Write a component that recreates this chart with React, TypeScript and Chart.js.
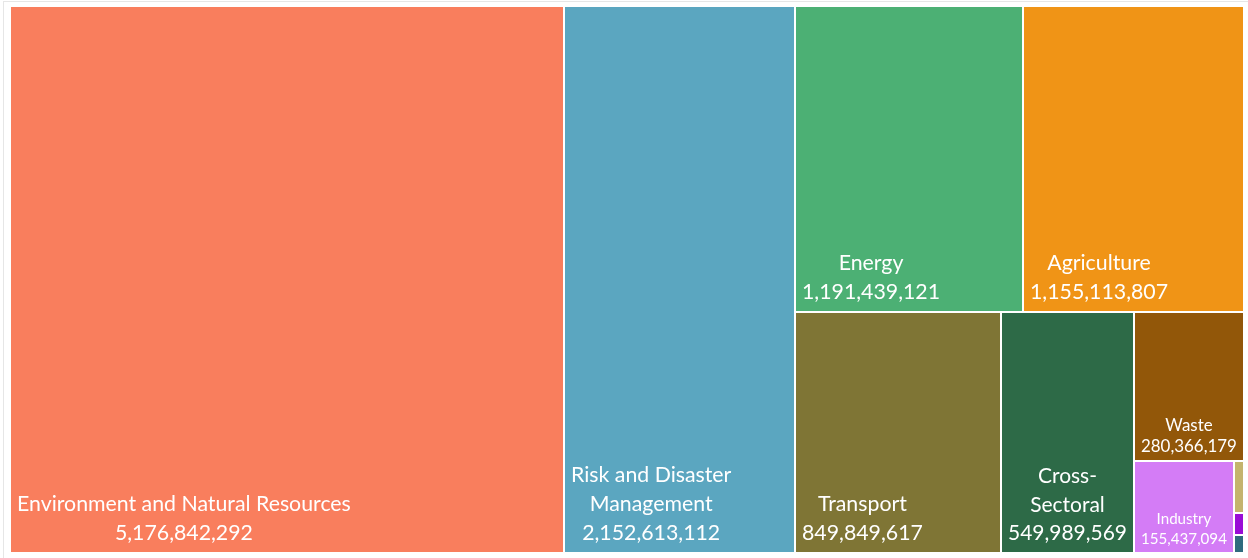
import { useEffect, useRef } from "react";
import { Chart, registerables } from "chart.js";

Chart.register(...registerables);

const categories = [
  "Environment and Natural Resources",
  "Risk and Disaster Management",
  "Energy",
  "Agriculture",
  "Transport",
  "Cross-Sectoral",
  "Waste",
  "Industry",
  "Water",
  "Health",
  "Urban Development",
];

const values = [
  5176842292, 2152613112, 1191439121, 1155113807, 849849617, 549989569,
  280366179, 155437094, 9200000, 4000000, 3200000,
];

const colors = [
  "#F97E5D",
  "#5BA6C0",
  "#4CB074",
  "#F09416",
  "#7F7535",
  "#2D6A47",
  "#925709",
  "#D47CF6",
  "#C4B46E",
  "#9A0CD6",
  "#2F6B7E",
];

type Rect = { x0: number; y0: number; x1: number; y1: number };

// d3-style squarified layout with a tunable ratio
function squarify(vals: number[], X0: number, Y0: number, X1: number, Y1: number, ratio: number): Rect[] {
  const rects: Rect[] = new Array(vals.length);
  let x0 = X0, y0 = Y0, x1 = X1, y1 = Y1;
  let value = vals.reduce((a, b) => a + b, 0);
  let i0 = 0, i1 = 0;
  const n = vals.length;
  while (i0 < n) {
    const dx = x1 - x0, dy = y1 - y0;
    let sumValue = vals[i1++];
    let minValue = sumValue, maxValue = sumValue;
    const alpha = Math.max(dy / dx, dx / dy) / (value * ratio);
    let beta = sumValue * sumValue * alpha;
    let minRatio = Math.max(maxValue / beta, beta / minValue);
    for (; i1 < n; ++i1) {
      const nv = vals[i1];
      sumValue += nv;
      const mn = Math.min(minValue, nv);
      const mx = Math.max(maxValue, nv);
      beta = sumValue * sumValue * alpha;
      const newRatio = Math.max(mx / beta, beta / mn);
      if (newRatio > minRatio) {
        sumValue -= nv;
        break;
      }
      minValue = mn;
      maxValue = mx;
      minRatio = newRatio;
    }
    if (dx < dy) {
      const ny = y0 + (dy * sumValue) / value;
      let cx = x0;
      for (let i = i0; i < i1; i++) {
        const w = (dx * vals[i]) / sumValue;
        rects[i] = { x0: cx, y0: y0, x1: cx + w, y1: ny };
        cx += w;
      }
      y0 = ny;
    } else {
      const nx = x0 + (dx * sumValue) / value;
      let cy = y0;
      for (let i = i0; i < i1; i++) {
        const h = (dy * vals[i]) / sumValue;
        rects[i] = { x0: x0, y0: cy, x1: nx, y1: cy + h };
        cy += h;
      }
      x0 = nx;
    }
    value -= sumValue;
    i0 = i1;
  }
  return rects;
}

const FONT_FAMILY = "Lato, 'Noto Sans', sans-serif";
const BASE_FONT = 21.3;

function tokenize(label: string): string[] {
  const out: string[] = [];
  label.split(" ").forEach((w) => {
    const parts = w.split(/(?<=-)/);
    parts.forEach((p) => out.push(p));
  });
  return out;
}

const treemapPlugin = {
  id: "treemapCells",
  afterDatasetsDraw(chart: any) {
    const { ctx, chartArea, scales } = chart;
    const xs = scales.x;
    const ys = scales.y;
    const W = chartArea.right - chartArea.left;
    const H = chartArea.bottom - chartArea.top;
    const rects = squarify(values, 0, 0, W, H, 0.8);
    const gap = 1;
    ctx.save();
    rects.forEach((r, i) => {
      const px0 = xs.getPixelForValue(r.x0 / W);
      const px1 = xs.getPixelForValue(r.x1 / W);
      const py0 = ys.getPixelForValue(r.y0 / H);
      const py1 = ys.getPixelForValue(r.y1 / H);
      const x = Math.round(px0) + gap;
      const y = Math.round(py0) + gap;
      const w = Math.round(px1) - Math.round(px0) - 2 * gap;
      const h = Math.round(py1) - Math.round(py0) - 2 * gap;
      ctx.fillStyle = colors[i];
      ctx.fillRect(x, y, w, h);

      // labels
      const pad = 6;
      const availW = w - 2 * pad;
      if (availW < 30) return;
      const valueText = values[i].toLocaleString("en-US");
      const tokens = tokenize(categories[i]);
      ctx.font = `${BASE_FONT}px ${FONT_FAMILY}`;
      let maxTok = ctx.measureText(valueText).width;
      tokens.forEach((t) => {
        maxTok = Math.max(maxTok, ctx.measureText(t).width);
      });
      let size = Math.min(BASE_FONT, (BASE_FONT * availW) / maxTok);
      if (size < 8) return;
      ctx.font = `${size}px ${FONT_FAMILY}`;
      const lines: string[] = [];
      let cur = "";
      tokens.forEach((t) => {
        const sep = cur === "" || cur.endsWith("-") ? "" : " ";
        const trial = cur + sep + t;
        if (cur !== "" && ctx.measureText(trial).width > availW) {
          lines.push(cur);
          cur = t;
        } else {
          cur = trial;
        }
      });
      if (cur) lines.push(cur);
      lines.push(valueText);
      const lh = size >= 19 ? size * 1.36 : Math.max(20.5, size * 1.27);
      if (lines.length * lh > h - 4) return;
      let blockW = 0;
      lines.forEach((l) => (blockW = Math.max(blockW, ctx.measureText(l).width)));
      const cx = x + pad + blockW / 2;
      const lastBase = y + h - (size >= 19 ? size * 0.55 : 8);
      ctx.fillStyle = "#ffffff";
      ctx.textAlign = "center";
      ctx.textBaseline = "alphabetic";
      lines.forEach((l, k) => {
        ctx.fillText(l, cx, lastBase - (lines.length - 1 - k) * lh);
      });
    });
    ctx.restore();
  },
};

export default function App() {
  const ref = useRef<HTMLCanvasElement | null>(null);
  useEffect(() => {
    if (!ref.current) return;
    const chart = new Chart(ref.current, {
      type: "scatter",
      data: {
        datasets: [
          {
            label: "Funding",
            data: [],
          },
        ],
      },
      options: {
        animation: false,
        responsive: false,
        devicePixelRatio: 1,
        layout: { padding: { left: 10, top: 6, right: 4, bottom: 5 } },
        plugins: { legend: { display: false }, tooltip: { enabled: false } },
        scales: {
          x: { type: "linear", min: 0, max: 1, display: false },
          y: { type: "linear", min: 0, max: 1, reverse: true, display: false },
        },
      },
      plugins: [treemapPlugin],
    });
    return () => chart.destroy();
  }, []);
  return (
    <div
      style={{
        position: "fixed",
        left: 0,
        top: 0,
        width: 1248,
        height: 558,
        background: "#ffffff",
        overflow: "hidden",
      }}
    >
      <div
        style={{
          position: "absolute",
          left: 3,
          top: 1,
          width: 1300,
          height: 600,
          borderLeft: "1px solid #e6e6e6",
          borderTop: "1px solid #e6e6e6",
        }}
      />
      <canvas ref={ref} width={1248} height={558} style={{ position: "absolute", left: 0, top: 0 }} />
    </div>
  );
}
